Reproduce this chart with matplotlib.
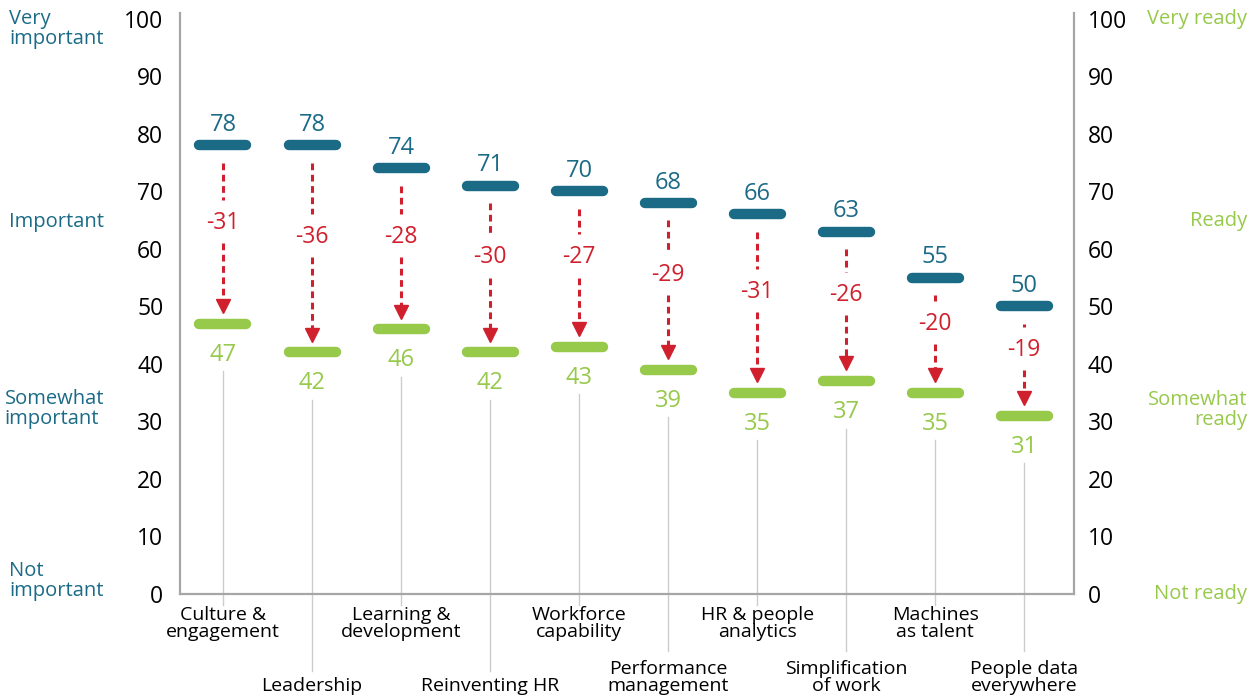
import matplotlib.pyplot as plt
from matplotlib.transforms import blended_transform_factory

plt.rcParams['font.family'] = ['Open Sans', 'DejaVu Sans']

# ---------------- data ----------------
categories = ['Culture &\nengagement', 'Leadership', 'Learning &\ndevelopment',
              'Reinventing HR', 'Workforce\ncapability', 'Performance\nmanagement',
              'HR & people\nanalytics', 'Simplification\nof work',
              'Machines\nas talent', 'People data\neverywhere']
importance = [78, 78, 74, 71, 70, 68, 66, 63, 55, 50]
readiness = [47, 42, 46, 42, 43, 39, 35, 37, 35, 31]
gap = [-31, -36, -28, -30, -27, -29, -31, -26, -20, -19]

left_labels = ['Very\nimportant', 'Important', 'Somewhat\nimportant', 'Not\nimportant']
left_label_y = [98.2, 64.7, 32.2, 2.2]
right_labels = ['Very ready', 'Ready', 'Somewhat\nready', 'Not ready']
right_label_y = [100, 64.9, 32, 0]

blue = '#1b6b87'
green = '#97c94b'
red = '#d0202e'
spine_c = '#a6a6a6'

fig = plt.figure(figsize=(12.58, 6.98), dpi=100)
ax = fig.add_axes([180 / 1258, 104 / 698, 894 / 1258, 581 / 698])
ax.set_xlim(-0.483, 9.56)
ax.set_ylim(0, 101)

h = 0.264
for i, (b, g, d) in enumerate(zip(importance, readiness, gap)):
    ax.plot([i - h, i + h], [b, b], color=blue, lw=7.5, solid_capstyle='round')
    ax.plot([i - h, i + h], [g, g], color=green, lw=7.5, solid_capstyle='round')
    ax.text(i, b + 3.5, str(b), ha='center', va='center', color=blue, fontsize=17)
    ax.text(i, g - 5.4, str(g), ha='center', va='center', color=green, fontsize=17)

    mid = (b + g) / 2 + 2
    ax.text(i, mid, str(d), ha='center', va='center', color=red, fontsize=16.5)
    ax.plot([i, i], [b - 3, mid + 4], color=red, lw=2.2, ls=(0, (2.2, 1.5)))
    ax.plot([i, i], [mid - 3.5, g + 4.2], color=red, lw=2.2, ls=(0, (2.2, 1.5)))
    ax.plot(i, g + 3.1, marker='v', ms=10.5, color=red, mec=red)

    # leader line + category label
    nlines = categories[i].count('\n') + 1
    if i % 2 == 0:
        end = -1.9
        ax.text(i, -2.1, categories[i], ha='center', va='top', fontsize=14,
                linespacing=0.92, clip_on=False)
    else:
        end = -17.6 + nlines * 3.4 + 0.9
        ax.text(i, -17.6, categories[i], ha='center', va='bottom', fontsize=14,
                linespacing=0.92, clip_on=False)
    ax.plot([i, i], [g - 8.3, end], color='#cccccc', lw=1, clip_on=False, zorder=0)

ax.spines['top'].set_visible(False)
for s in ['left', 'right', 'bottom']:
    ax.spines[s].set_color(spine_c)
    ax.spines[s].set_linewidth(1.6)

ax.set_xticks([])
ax.set_yticks(range(0, 101, 10))
ax.tick_params(axis='y', length=0, pad=12, labelsize=16.5)

ax2 = ax.twinx()
ax2.set_ylim(0, 101)
ax2.set_yticks(range(0, 101, 10))
ax2.tick_params(axis='y', length=0, pad=10, labelsize=16.5)
for s in ['top', 'left', 'bottom', 'right']:
    ax2.spines[s].set_visible(False)

tr = blended_transform_factory(fig.transFigure, ax.transData)
for lab, y in zip(left_labels, left_label_y):
    ax.text(104 / 1258, y, lab, transform=tr, ha='right', va='center',
            multialignment='left', color=blue, fontsize=14.5, linespacing=1.02)
for lab, y in zip(right_labels, right_label_y):
    ax.text(1247 / 1258, y, lab, transform=tr, ha='right', va='center',
            multialignment='right', color=green, fontsize=14.5, linespacing=1.02)

fig.savefig('out.png', dpi=100)
